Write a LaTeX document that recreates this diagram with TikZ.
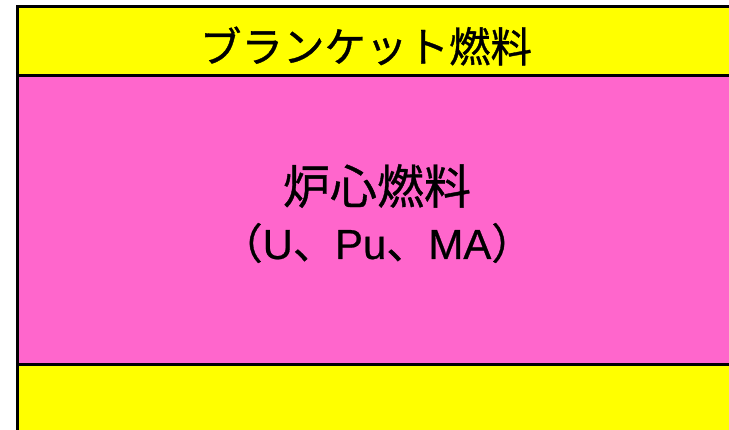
\documentclass[tikz,border=0pt]{standalone}
\usepackage{fontspec}
\setmainfont{Liberation Sans}[BoldFont=Liberation Sans,BoldFeatures={FakeBold=0.6}]
\newfontfamily\cjk{Noto Sans CJK JP}[BoldFont=Noto Sans CJK JP,BoldFeatures={FakeBold=0.8}]
\definecolor{blanketyellow}{RGB}{255,255,0}
\definecolor{corepink}{RGB}{255,102,204}
\begin{document}
\begin{tikzpicture}[x=1pt,y=-1pt,
  band/.style={draw=black,line width=3pt},
  label/.style={anchor=center,align=center,inner sep=0pt,font=\bfseries}]
\useasboundingbox (0,0) rectangle (729,430);
\fill[white] (0,0) rectangle (729,430);
\path[band,fill=blanketyellow] (17,7) rectangle (740,76);
\path[band,fill=corepink] (17,76) rectangle (740,365);
\path[band,fill=blanketyellow] (17,365) rectangle (740,440);
\node[label] (blanket) at (366,46) {\fontsize{41.5}{46}\selectfont\cjk ブランケット燃料};
\node[label] (core1) at (377,186) {\fontsize{47}{52}\selectfont\cjk 炉心燃料};
\node[label] (core2) at (377,243) {\fontsize{42}{48}\selectfont{\cjk （}U{\cjk 、}Pu{\cjk 、}MA{\cjk ）}};
\end{tikzpicture}
\end{document}
